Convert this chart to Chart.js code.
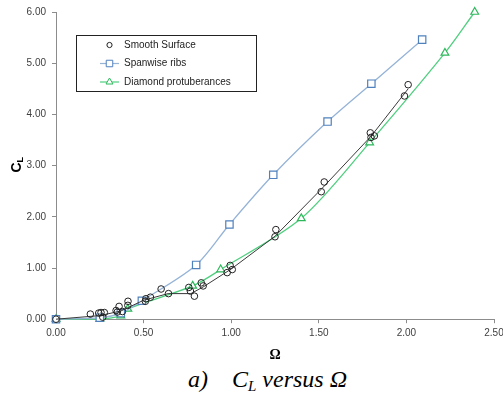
<!DOCTYPE html>
<html>
<head>
<meta charset="utf-8">
<script src="https://cdn.jsdelivr.net/npm/chart.js@4.4.1/dist/chart.umd.min.js"></script>
<style>
  html, body { margin: 0; padding: 0; background: #fff; }
  #wrap { position: relative; width: 503px; height: 399px; }
  #cl { position: absolute; left: 0; top: 0; }
  #caption {
    position: absolute; left: 188px; top: 366px;
    font-family: "Liberation Serif", "DejaVu Serif", serif;
    font-style: italic; font-size: 24px; color: #000; white-space: pre;
  }
  #caption sub { font-size: 15px; vertical-align: -4px; }
</style>
</head>
<body>
<div id="wrap">
  <canvas id="cl" width="503" height="364"></canvas>
  <div id="caption">a)    C<sub>L</sub> versus Ω</div>
</div>
<script>
// --- data ---
const smoothX = [0, 0.196, 0.244, 0.257, 0.267, 0.276, 0.343, 0.35, 0.36, 0.379, 0.41, 0.411, 0.51, 0.513, 0.539, 0.6, 0.642, 0.758, 0.767, 0.79, 0.829, 0.84, 0.977, 0.994, 1.006, 1.25, 1.255, 1.514, 1.531, 1.794, 1.798, 1.817, 1.989, 2.01];
const smoothY = [0, 0.10, 0.12, 0.13, 0.04, 0.13, 0.17, 0.14, 0.25, 0.15, 0.27, 0.35, 0.35, 0.40, 0.43, 0.59, 0.50, 0.62, 0.55, 0.45, 0.71, 0.65, 0.91, 1.05, 0.97, 1.61, 1.75, 2.49, 2.68, 3.64, 3.55, 3.58, 4.36, 4.58];

// trend line through the smooth surface points
const fitX = [0, 0.25, 0.37, 0.5, 0.64, 0.77, 0.84, 1.0, 1.25, 1.52, 1.8, 2.01];
const fitY = [0, 0.07, 0.16, 0.37, 0.5, 0.5, 0.63, 0.98, 1.62, 2.56, 3.58, 4.5];

const ribsX = [0, 0.25, 0.37, 0.49, 0.8, 0.99, 1.24, 1.55, 1.8, 2.09];
const ribsY = [0, 0.03, 0.12, 0.36, 1.06, 1.85, 2.82, 3.86, 4.6, 5.46];

const diaX = [0, 0.25, 0.37, 0.41, 0.78, 0.94, 1.4, 1.79, 2.22, 2.39];
const diaY = [0, 0.0, 0.07, 0.2, 0.65, 0.97, 1.97, 3.45, 5.2, 6.0];

const seriesNames = ['Smooth Surface', 'Spanwise ribs', 'Diamond protuberances'];
const xTicks = [0, 0.5, 1.0, 1.5, 2.0, 2.5];
const yTicks = [0, 1, 2, 3, 4, 5, 6];

const pts = (xs, ys) => xs.map((x, i) => ({ x: x, y: ys[i] }));

const tickFont = { family: 'Liberation Sans', size: 10 };
const axisGrey = '#8c8c8c';

// --- y axis title C_L (rotated, with subscript) ---
const yTitlePlugin = {
    id: 'yTitle',
    afterDraw(chart) {
        const ctx = chart.ctx;
        const cy = (chart.chartArea.top + chart.chartArea.bottom) / 2;
        ctx.save();
        ctx.translate(17, cy);
        ctx.rotate(-Math.PI / 2);
        ctx.fillStyle = '#000';
        ctx.textBaseline = 'middle';
        ctx.font = 'bold 14px "Liberation Sans"';
        ctx.fillText('C', -7, 0);
        ctx.font = 'bold 9px "Liberation Sans"';
        ctx.fillText('L', 3, 4);
        ctx.restore();
    }
};

// --- legend box inside the plot ---
const legendPlugin = {
    id: 'boxLegend',
    afterDraw(chart) {
        const ctx = chart.ctx;
        const x0 = 76, y0 = 35, w = 180, h = 56;
        ctx.save();
        ctx.fillStyle = '#fff';
        ctx.fillRect(x0, y0, w, h);
        ctx.strokeStyle = '#222';
        ctx.lineWidth = 1;
        ctx.strokeRect(x0 + 0.5, y0 + 0.5, w, h);
        const rows = [45, 63.5, 82];
        const legendRadius = [2.6, 4.6, 4];
        [0, 1, 2].forEach(i => {
            const ds = chart.data.datasets[i];
            const y = rows[i];
            if (ds.showLine !== false) {
                ctx.strokeStyle = ds.borderColor;
                ctx.lineWidth = 1.2;
                ctx.beginPath();
                ctx.moveTo(100, y);
                ctx.lineTo(119, y);
                ctx.stroke();
            }
            ctx.fillStyle = '#fff';
            ctx.strokeStyle = ds.pointBorderColor;
            ctx.lineWidth = 1;
            Chart.helpers.drawPoint(ctx, {
                pointStyle: ds.pointStyle,
                radius: legendRadius[i],
                borderWidth: 1
            }, 109.5, y);
            ctx.fillStyle = '#222';
            ctx.font = '10px "Liberation Sans"';
            ctx.textBaseline = 'middle';
            ctx.fillText(ds.label, 124, y);
        });
        ctx.restore();
    }
};

new Chart(document.getElementById('cl'), {
    type: 'scatter',
    data: {
        datasets: [
            {
                label: seriesNames[0],
                data: pts(smoothX, smoothY),
                showLine: false,
                pointStyle: 'circle',
                pointRadius: 3.3,
                pointBorderColor: '#222',
                pointBackgroundColor: 'rgba(255,255,255,0)',
                pointBorderWidth: 1,
                borderColor: '#222',
                order: 0
            },
            {
                label: seriesNames[1],
                data: pts(ribsX, ribsY),
                showLine: true,
                tension: 0.3,
                borderColor: '#95b3d7',
                borderWidth: 1.3,
                pointStyle: 'rect',
                pointRadius: 5.2,
                pointBorderColor: '#4f81bd',
                pointBackgroundColor: '#fff',
                pointBorderWidth: 1.2,
                order: 2
            },
            {
                label: seriesNames[2],
                data: pts(diaX, diaY),
                showLine: true,
                tension: 0.3,
                borderColor: '#4fcf7f',
                borderWidth: 1.3,
                pointStyle: 'triangle',
                pointRadius: 4.5,
                pointBorderColor: '#2eb85c',
                pointBackgroundColor: '#fff',
                pointBorderWidth: 1.2,
                order: 3
            },
            {
                label: 'fit',
                data: pts(fitX, fitY),
                showLine: true,
                tension: 0,
                borderColor: '#3a3a3a',
                borderWidth: 1,
                pointRadius: 0,
                order: 1
            }
        ]
    },
    options: {
        responsive: false,
        animation: false,
        clip: false,
        layout: { padding: { top: 8, right: 9, left: 0, bottom: 0 } },
        plugins: {
            legend: { display: false },
            tooltip: { enabled: false }
        },
        scales: {
            x: {
                type: 'linear',
                min: 0, max: 2.5,
                afterBuildTicks: s => { s.ticks = xTicks.map(v => ({ value: v })); },
                afterFit: s => { s.paddingLeft = 0; s.paddingRight = 0; },
                ticks: {
                    font: tickFont, color: '#404040', padding: 4,
                    callback: v => v.toFixed(2)
                },
                grid: { drawOnChartArea: false, drawTicks: true, tickLength: 4, color: axisGrey },
                border: { color: axisGrey, width: 1 },
                title: {
                    display: true, text: 'Ω',
                    font: { family: 'Liberation Serif', size: 14, weight: 'bold' },
                    color: '#000', padding: { top: 4, bottom: 0 }
                }
            },
            y: {
                type: 'linear',
                min: 0, max: 6,
                afterBuildTicks: s => { s.ticks = yTicks.map(v => ({ value: v })); },
                afterFit: s => { s.width = 56; },
                ticks: {
                    font: tickFont, color: '#404040', padding: 6,
                    callback: v => v.toFixed(2)
                },
                grid: { drawOnChartArea: false, drawTicks: true, tickLength: 4, color: axisGrey },
                border: { color: axisGrey, width: 1 }
            }
        }
    },
    plugins: [yTitlePlugin, legendPlugin]
});
</script>
</body>
</html>
